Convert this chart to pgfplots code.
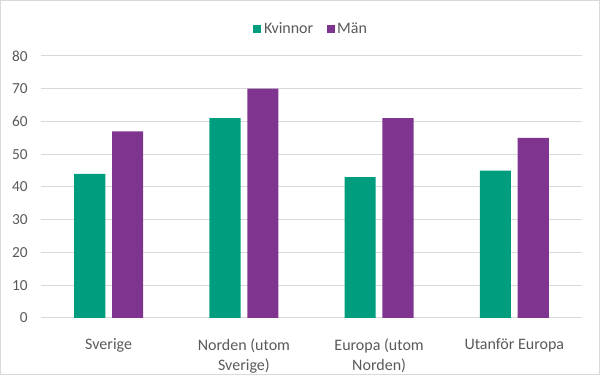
\documentclass[border=0pt]{standalone}
\usepackage{pgfplots}
\pgfplotsset{compat=1.18}
\usepackage{fontspec}
\setmainfont{Carlito}
\definecolor{kv}{HTML}{009E7E}
\definecolor{man}{HTML}{7F3590}
\definecolor{gridc}{HTML}{D9D9D9}
\definecolor{txt}{HTML}{595959}
\begin{document}
\fontsize{11.5pt}{15pt}\selectfont
\begin{tikzpicture}
\draw[gridc, line width=0.75pt] (-30.4pt,-42.4pt) rectangle (418.9pt,238.1pt);
\begin{axis}[
  at={(0,0)}, anchor=south west,
  scale only axis, width=405.75pt, height=196.5pt,
  ybar,
  ymin=0, ymax=80, ytick={0,10,...,80},
  xmin=-0.5, xmax=3.5, xtick={0,1,2,3},
  xticklabels={Sverige,{Norden (utom\\Sverige)},{Europa (utom\\Norden)},Utanför Europa},
  xticklabel style={align=center, text=txt, font=\fontsize{12pt}{15pt}\selectfont, yshift=-7pt},
  yticklabel style={text=txt, font=\fontsize{11.5pt}{13pt}\selectfont, xshift=-6pt},
  /pgf/number format/assume math mode=true,
  ymajorgrids, grid style={gridc, line width=0.75pt},
  axis line style={draw=none}, tick style={draw=none},
  legend columns=2,
  legend style={draw=none, fill=none, at={(0.5,1)}, anchor=center, yshift=20pt,
    font=\fontsize{12pt}{14pt}\selectfont, text=txt,
    /tikz/every even column/.append style={column sep=8pt}},
  legend image code/.code={\fill[#1] (1pt,-3pt) rectangle (7pt,3pt);},
]
\addplot[fill=kv, draw=none, bar width=0.23, bar shift=-0.14] coordinates {(0,44) (1,61) (2,43) (3,45)};
\addplot[fill=man, draw=none, bar width=0.23, bar shift=0.14] coordinates {(0,57) (1,70) (2,61) (3,55)};
\legend{Kvinnor, Män}
\end{axis}
\end{tikzpicture}
\end{document}
